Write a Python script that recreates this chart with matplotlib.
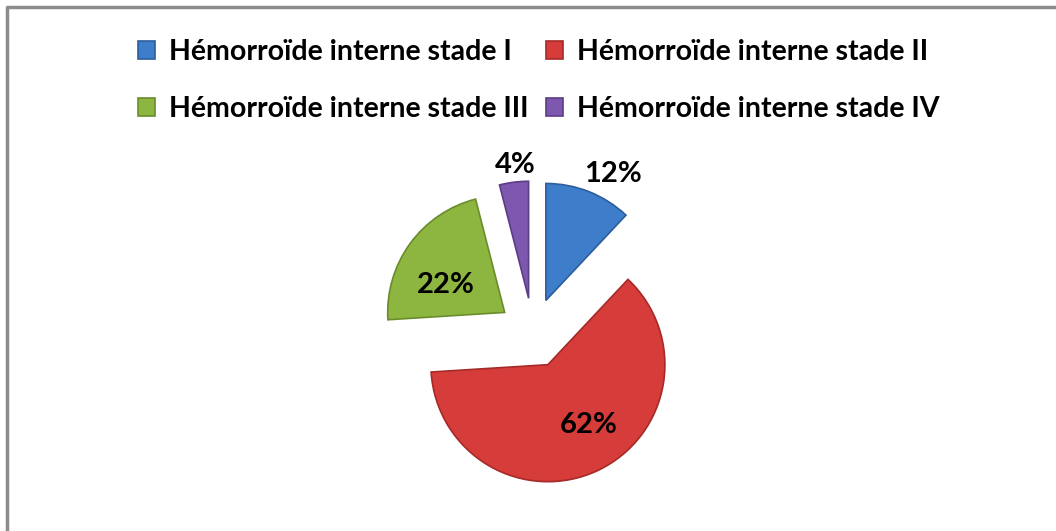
import matplotlib.pyplot as plt
import numpy as np

labels = ["Hémorroïde interne stade I", "Hémorroïde interne stade II",
          "Hémorroïde interne stade III", "Hémorroïde interne stade IV"]
values = [12, 62, 22, 4]
colors = ["#3D7DCA", "#D63C39", "#8DB640", "#7E57AE"]
edges = ["#2C5E9C", "#A52A28", "#6A8C2C", "#5C3D86"]

plt.rcParams['font.family'] = ['Lato', 'DejaVu Sans']

fig = plt.figure(figsize=(10.56, 5.31), dpi=100)
ax = fig.add_axes([0, 0, 1, 1])

# pixel space, y up; explode is in data units (pixels) here
cx, cy, r = 533, 198, 117
explode = [35, 35, 35, 35]
wedges, _ = ax.pie(values, colors=colors, startangle=90, counterclock=False,
                   explode=explode, center=(cx, cy), radius=r,
                   wedgeprops=dict(linewidth=1.2))
for w, ec in zip(wedges, edges):
    w.set_edgecolor(ec)

# percentage labels: distance from exploded centre (radii) and angle nudge (deg)
dists = [1.24, 0.61, 0.56, 1.17]
nudge = [-6, 10, 9, -1.5]
for w, v, d, n in zip(wedges, values, dists, nudge):
    mid = np.deg2rad((w.theta1 + w.theta2) / 2 + n)
    ox, oy = w.center
    ax.text(ox + d * r * np.cos(mid), oy + d * r * np.sin(mid), f"{v}%",
            ha="center", va="center_baseline", fontsize=21, fontweight="bold",
            color="black")

ax.set_xlim(0, 1056)
ax.set_ylim(0, 531)
ax.set_aspect("equal")
ax.axis("off")

# border (top and left only visible)
ax.plot([7, 7, 1056], [0, 524, 524], color="#8C8C8C", linewidth=2.5, solid_capstyle="butt")

order = [0, 2, 1, 3]
leg = fig.legend([wedges[i] for i in order], [labels[i] for i in order],
                 ncol=2, loc="upper center", bbox_to_anchor=(0.51, 0.975),
                 frameon=False, prop=dict(size=20.5, weight="bold"),
                 handlelength=0.6, handleheight=0.6, handletextpad=0.5,
                 columnspacing=0.6, labelspacing=1.1)

fig.savefig("out.png", dpi=100, facecolor="white")
